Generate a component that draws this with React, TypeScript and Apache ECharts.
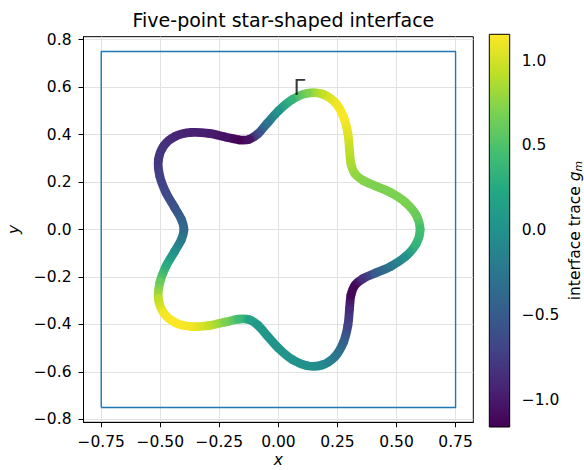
import React, { useEffect, useRef } from 'react';
import * as echarts from 'echarts';

const TITLE = 'Five-point star-shaped interface';
const X_TICKS = [-0.75, -0.5, -0.25, 0, 0.25, 0.5, 0.75];
const Y_TICKS = [-0.8, -0.6, -0.4, -0.2, 0, 0.2, 0.4, 0.6, 0.8];
const CB_TICKS = [-1, -0.5, 0, 0.5, 1];
const X_RANGE = [-0.825, 0.825];
const Y_RANGE = [-0.8125, 0.8125];
const CB_RANGE = [-1.16, 1.155];

const CURVE_X = [
  0.600, 0.583, 0.538, 0.476, 0.411, 0.358, 0.324, 0.307, 0.301, 0.294,
  0.275, 0.239, 0.185, 0.122, 0.057, 0.000, -0.047, -0.086, -0.124, -0.168,
  -0.225, -0.294, -0.368, -0.436, -0.485, -0.508, -0.502, -0.476, -0.440, -0.411,
  -0.400, -0.411, -0.440, -0.476, -0.502, -0.508, -0.485, -0.436, -0.368, -0.294,
  -0.225, -0.168, -0.124, -0.086, -0.047, 0.000, 0.057, 0.122, 0.185, 0.239,
  0.275, 0.294, 0.301, 0.307, 0.324, 0.358, 0.411, 0.476, 0.538, 0.583,
];
const CURVE_Y = [
  0.000, 0.061, 0.114, 0.155, 0.183, 0.207, 0.235, 0.277, 0.334, 0.405,
  0.476, 0.536, 0.571, 0.574, 0.547, 0.500, 0.448, 0.404, 0.380, 0.378,
  0.390, 0.405, 0.409, 0.393, 0.353, 0.293, 0.224, 0.155, 0.094, 0.043,
  0.000, -0.043, -0.094, -0.155, -0.224, -0.293, -0.353, -0.393, -0.409, -0.405,
  -0.390, -0.378, -0.380, -0.404, -0.448, -0.500, -0.547, -0.574, -0.571, -0.536,
  -0.476, -0.405, -0.334, -0.277, -0.235, -0.207, -0.183, -0.155, -0.114, -0.061,
];
const CURVE_G = [
  0.46, 0.62, 0.69, 0.70, 0.70, 0.72, 0.78, 0.85, 0.93, 1.05,
  1.15, 1.10, 0.95, 0.70, 0.35, 0.05, -0.25, -0.60, -1.05, -1.15,
  -1.05, -0.98, -0.95, -0.92, -0.82, -0.80, -0.72, -0.65, -0.58, -0.45,
  -0.38, -0.23, -0.02, 0.28, 0.62, 0.93, 1.12, 1.15, 1.12, 0.95,
  0.70, 0.43, 0.18, 0.08, 0.05, 0.03, 0.03, 0.00, -0.07, -0.23,
  -0.42, -0.70, -0.88, -1.12, -1.12, -0.85, -0.50, -0.25, 0.00, 0.35,
];
const BOX_X = [-0.75, 0.75, 0.75, -0.75, -0.75];
const BOX_Y = [-0.75, -0.75, 0.75, 0.75, -0.75];
const MARK_TEXT = 'Γ';
const MARK_POS = [0.089, 0.596];

const VIRIDIS = [
  '#440154', '#482475', '#414487', '#355f8d', '#2a788e', '#21918c',
  '#22a884', '#44bf70', '#7ad151', '#bddf26', '#fde725',
];

const FONT = 'DejaVu Sans';
const FS = 15.5;

function hexRgb(h: string) {
  return [parseInt(h.slice(1, 3), 16), parseInt(h.slice(3, 5), 16), parseInt(h.slice(5, 7), 16)];
}

function viridis(g: number) {
  let t = (g - CB_RANGE[0]) / (CB_RANGE[1] - CB_RANGE[0]);
  t = Math.max(0, Math.min(1, t));
  const s = t * (VIRIDIS.length - 1);
  const i = Math.min(Math.floor(s), VIRIDIS.length - 2);
  const f = s - i;
  const a = hexRgb(VIRIDIS[i]);
  const b = hexRgb(VIRIDIS[i + 1]);
  const c = a.map((v, k) => Math.round(v + (b[k] - v) * f));
  return `rgb(${c[0]},${c[1]},${c[2]})`;
}

const minus = (s: string) => s.replace('-', '\u2212');

export default function App() {
  const ref = useRef<HTMLDivElement>(null);
  useEffect(() => {
    if (!ref.current) return;
    const chart = echarts.init(ref.current, undefined, { renderer: 'svg' });
    const n = CURVE_X.length;
    const tickStyle = { color: '#000', fontSize: FS, fontFamily: FONT };
    const option: any = {
      animation: false,
      backgroundColor: '#fff',
      title: {
        text: TITLE,
        left: 278.4,
        top: 5.6,
        textAlign: 'center',
        textStyle: { fontFamily: FONT, fontSize: 19, fontWeight: 'normal', color: '#000' },
      },
      grid: [
        {
          left: 83.5, top: 36.7, width: 389.8, height: 385.6, outerBoundsMode: 'none', containLabel: false,
          show: true, borderColor: '#000', borderWidth: 1, backgroundColor: 'transparent',
        },
        { left: 489.3, top: 34.3, width: 20.4, height: 392.7, outerBoundsMode: 'none', containLabel: false },
      ],
      xAxis: [
        {
          type: 'value', gridIndex: 0, min: X_RANGE[0], max: X_RANGE[1],
          axisLine: { show: true, onZero: false, lineStyle: { color: '#000', width: 1 } },
          axisTick: { show: true, length: 5, customValues: X_TICKS, lineStyle: { color: '#000', width: 1 } },
          axisLabel: { customValues: X_TICKS, margin: 12, ...tickStyle, formatter: (v: number) => minus(v.toFixed(2)) },
          splitLine: { show: true, lineStyle: { color: '#e2e2e2', width: 1 } },
          name: 'x', nameLocation: 'middle', nameGap: 30, nameMoveOverlap: false,
          nameTextStyle: { fontFamily: FONT, fontSize: FS, fontStyle: 'italic', color: '#000', lineHeight: 16 },
        },
        { type: 'value', gridIndex: 1, min: 0, max: 1, show: false },
      ],
      yAxis: [
        {
          type: 'value', gridIndex: 0, min: Y_RANGE[0], max: Y_RANGE[1],
          axisLine: { show: true, onZero: false, lineStyle: { color: '#000', width: 1 } },
          axisTick: { show: true, length: 5, customValues: Y_TICKS, lineStyle: { color: '#000', width: 1 } },
          axisLabel: { customValues: Y_TICKS, margin: 12, ...tickStyle, formatter: (v: number) => minus(v.toFixed(1)) },
          splitLine: { show: true, lineStyle: { color: '#e2e2e2', width: 1 } },
          name: 'y', nameLocation: 'middle', nameGap: 61.5, nameRotate: 90,
          nameTextStyle: { fontFamily: FONT, fontSize: FS, fontStyle: 'italic', color: '#000' },
        },
        {
          type: 'value', gridIndex: 1, min: CB_RANGE[0], max: CB_RANGE[1], position: 'right',
          axisLine: { show: false },
          axisTick: { show: true, length: 5, customValues: CB_TICKS, lineStyle: { color: '#000', width: 1 } },
          axisLabel: { customValues: CB_TICKS, margin: 12, ...tickStyle, formatter: (v: number) => minus(v.toFixed(1)) },
          splitLine: { show: false },
          name: '{t|interface trace }{g|g}{s|m}', nameLocation: 'middle', nameGap: 56, nameRotate: 90,
          nameTextStyle: {
            fontFamily: FONT, fontSize: FS, color: '#000',
            rich: {
              t: { fontFamily: FONT, fontSize: FS, color: '#000', lineHeight: 18 },
              g: { fontFamily: FONT, fontSize: FS, fontStyle: 'italic', color: '#000', lineHeight: 18 },
              s: { fontFamily: FONT, fontSize: 10.8, fontStyle: 'italic', color: '#000', lineHeight: 9, verticalAlign: 'bottom' },
            },
          },
        },
      ],
      series: [
        {
          type: 'line', xAxisIndex: 0, yAxisIndex: 0, silent: true,
          data: BOX_X.map((x, i) => [x, BOX_Y[i]]),
          symbol: 'none', lineStyle: { color: '#1f77b4', width: 1.4 }, z: 3,
        },
        {
          type: 'custom', xAxisIndex: 0, yAxisIndex: 0, silent: true, clip: false, z: 5,
          data: CURVE_X.map((x, i) => [x, CURVE_Y[i], CURVE_G[i]]),
          encode: { x: 0, y: 1 },
          renderItem: (params: any, api: any) => {
            const i = params.dataIndex;
            const P = (k: number) => {
              const j = ((k % n) + n) % n;
              return api.coord([CURVE_X[j], CURVE_Y[j]]);
            };
            const p0 = P(i - 1), p1 = P(i), p2 = P(i + 1), p3 = P(i + 2);
            const c1 = viridis(CURVE_G[i]);
            const c2 = viridis(CURVE_G[(i + 1) % n]);
            return {
              type: 'bezierCurve',
              shape: {
                x1: p1[0], y1: p1[1], x2: p2[0], y2: p2[1],
                cpx1: p1[0] + (p2[0] - p0[0]) / 6, cpy1: p1[1] + (p2[1] - p0[1]) / 6,
                cpx2: p2[0] - (p3[0] - p1[0]) / 6, cpy2: p2[1] - (p3[1] - p1[1]) / 6,
              },
              style: {
                fill: 'none',
                stroke: {
                  type: 'linear', x: p1[0], y: p1[1], x2: p2[0], y2: p2[1], global: true,
                  colorStops: [{ offset: 0, color: c1 }, { offset: 1, color: c2 }],
                },
                lineWidth: 8.8, lineCap: 'round',
              },
            };
          },
        },
        {
          type: 'scatter', xAxisIndex: 0, yAxisIndex: 0, silent: true, z: 6,
          data: [MARK_POS], symbolSize: 0,
          label: { show: true, position: 'inside', formatter: MARK_TEXT, fontFamily: FONT, fontSize: 21, color: '#000' },
        },
        {
          type: 'custom', xAxisIndex: 1, yAxisIndex: 1, silent: true,
          data: [[0, CB_RANGE[0], CB_RANGE[1]]],
          renderItem: (params: any, api: any) => {
            const tl = api.coord([0, CB_RANGE[1]]);
            const br = api.coord([1, CB_RANGE[0]]);
            return {
              type: 'rect',
              shape: { x: tl[0], y: tl[1], width: br[0] - tl[0], height: br[1] - tl[1] },
              style: {
                fill: {
                  type: 'linear', x: 0, y: 0, x2: 0, y2: 1,
                  colorStops: VIRIDIS.slice().reverse().map((c, k) => ({ offset: k / (VIRIDIS.length - 1), color: c })),
                },
                stroke: '#000', lineWidth: 1,
              },
            };
          },
        },
      ],
    };
    chart.setOption(option);
    return () => chart.dispose();
  }, []);
  return <div ref={ref} style={{ position: 'fixed', left: 0, top: 0, width: 584, height: 470, background: '#fff' }} />;
}
